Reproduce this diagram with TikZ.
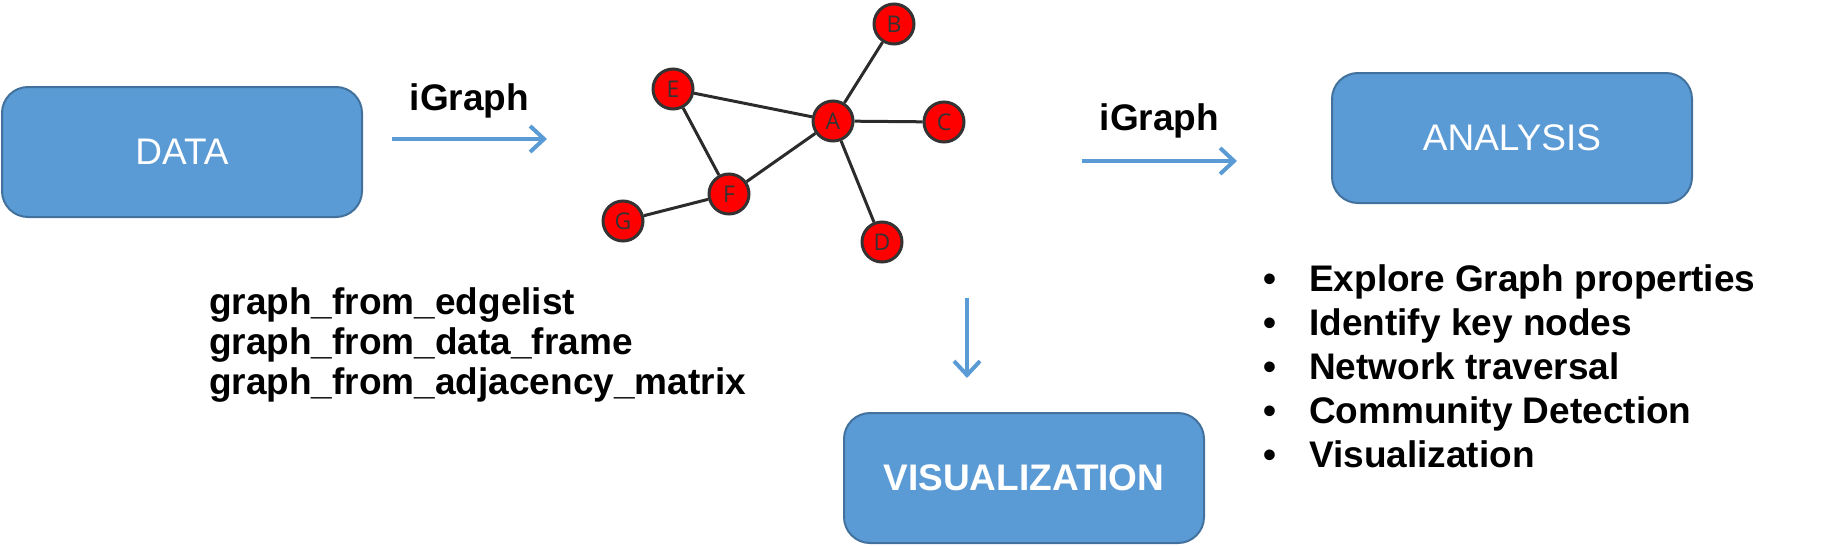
\documentclass[tikz,border=0pt]{standalone}
\usepackage{fontspec}
\setmainfont{Liberation Sans}
\newfontfamily\vertexfont{Open Sans}
\usetikzlibrary{arrows.meta}
\definecolor{boxblue}{HTML}{5B9BD5}
\definecolor{boxline}{HTML}{41719C}
\definecolor{vertexline}{HTML}{333333}
\definecolor{edgegray}{HTML}{2B2B2B}
\tikzset{
  stage/.style={draw=boxline, line width=2pt, fill=boxblue, rounded corners=26pt,
    text=white, minimum width=360pt, minimum height=130pt,
    font=\fontsize{37}{44}\selectfont},
  vertex/.style={circle, draw=vertexline, line width=3pt, fill=red, minimum size=40pt,
    inner sep=0pt, text=vertexline, font=\vertexfont\fontsize{23}{23}\selectfont},
  flow/.style={boxblue, line width=4pt,
    -{Straight Barb[length=14pt,width=26pt,line width=4pt]}},
  boldtext/.style={text=black, font=\bfseries\fontsize{37}{44}\selectfont, inner sep=0pt}
}

\begin{document}
\begin{tikzpicture}[x=1pt, y=-1pt]
  \useasboundingbox (0,0) rectangle (1847,546);

  % stages
  \node[stage] (data) at (182,152) {DATA};
  \node[stage] (analysis) at (1512,138) {ANALYSIS};
  \node[stage, font=\bfseries\fontsize{37}{44}\selectfont] (vis) at (1024,478) {VISUALIZATION};

  % example network
  \node[vertex] (A) at (833,121) {A};
  \node[vertex] (B) at (894,24)  {B};
  \node[vertex] (C) at (944,122) {C};
  \node[vertex] (D) at (882,242) {D};
  \node[vertex] (E) at (673,89)  {E};
  \node[vertex] (F) at (729,194) {F};
  \node[vertex] (G) at (623,221) {G};
  \path[draw=edgegray, line width=3pt]
  (A) edge (B)
      edge (C)
      edge (D)
      edge (E)
      edge (F)
  (E) edge (F)
  (F) edge (G)
  ;

  % arrows
  \coordinate (in1)  at (392,139);
  \coordinate (out1) at (547,139);
  \coordinate (in2)  at (1082,161);
  \coordinate (out2) at (1237,161);
  \coordinate (in3)  at (967,298);
  \coordinate (out3) at (967,378);
  \draw[flow] (in1) -- node[boldtext, above=19pt] {iGraph} (out1);
  \draw[flow] (in2) -- node[boldtext, above=21pt] {iGraph} (out2);
  \draw[flow] (in3) -- (out3);

  % constructors
  \foreach \fn [count=\i from 0] in {graph\_from\_edgelist, graph\_from\_data\_frame,
      graph\_from\_adjacency\_matrix}
    \node[boldtext, anchor=base west] (fn\i) at (209,314+40*\i) {\fn};

  % analysis tasks
  \foreach \task [count=\i from 0] in {Explore Graph properties, Identify key nodes,
      Network traversal, Community Detection, Visualization}
  {
    \node[boldtext, anchor=base] (dot\i) at (1270,291+44*\i) {•};
    \node[boldtext, anchor=base west] (task\i) at (1309,291+44*\i) {\task};
  }
\end{tikzpicture}
\end{document}
